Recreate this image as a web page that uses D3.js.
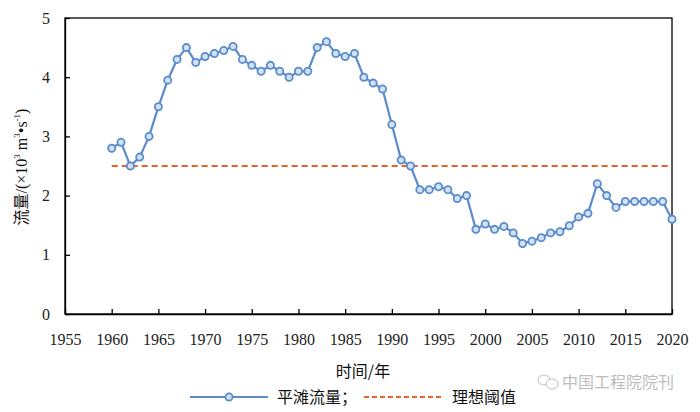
<!DOCTYPE html>
<html>
<head>
<meta charset="utf-8">
<script src="https://cdn.jsdelivr.net/npm/d3@7/dist/d3.min.js"></script>
<style>
body{margin:0;background:#fff;}
svg{display:block;}
</style>
</head>
<body>
<svg id="chart" width="700" height="412" font-family="Liberation Serif"></svg>
<script>
const years = d3.range(1960, 2021);
const flow = [2.8, 2.9, 2.5, 2.65, 3.0, 3.5, 3.95, 4.3, 4.5, 4.25,
              4.35, 4.4, 4.45, 4.52, 4.3, 4.2, 4.1, 4.2, 4.1, 4.0,
              4.1, 4.1, 4.5, 4.6, 4.4, 4.35, 4.4, 4.0, 3.9, 3.8,
              3.2, 2.6, 2.5, 2.1, 2.1, 2.15, 2.1, 1.95, 2.0, 1.43,
              1.52, 1.43, 1.48, 1.37, 1.19, 1.23, 1.29, 1.37, 1.39, 1.49,
              1.64, 1.7, 2.2, 2.0, 1.8, 1.9, 1.9, 1.9, 1.9, 1.9, 1.6];
const threshold = 2.5;
const xTicks = d3.range(1955, 2021, 5);
const yTicks = [0, 1, 2, 3, 4, 5];
const seriesNames = ["平滩流量；", "理想阈值"];

const SERIF = "Liberation Serif";
const CJK = "Noto Sans CJK SC";

const svg = d3.select("#chart");
const L = 65, R = 672, T = 18, B = 314;
const x = d3.scaleLinear().domain([1955, 2020]).range([L, R]);
const y = d3.scaleLinear().domain([0, 5]).range([B, T]);
const blue = "#5a8ccc", orange = "#e8622a";

// frame
svg.append("rect").attr("x", L).attr("y", T).attr("width", R - L).attr("height", B - T)
  .attr("fill", "none").attr("stroke", "#000").attr("stroke-width", 1.3);

// axes
const xAxis = svg.append("g").attr("transform", `translate(0,${B})`)
  .call(d3.axisBottom(x).tickValues(xTicks).tickFormat(d3.format("d")).tickSizeInner(-5).tickSizeOuter(0).tickPadding(20));
const yAxis = svg.append("g").attr("transform", `translate(${L},0)`)
  .call(d3.axisLeft(y).tickValues(yTicks).tickFormat(d3.format("d")).tickSizeInner(-5).tickSizeOuter(0).tickPadding(15));
[xAxis, yAxis].forEach(g => {
  g.attr("font-family", SERIF).attr("font-size", 16);
  g.select(".domain").attr("stroke", "#000").attr("stroke-width", 1.3);
  g.selectAll(".tick line").attr("stroke", "#000").attr("stroke-width", 1.3);
  g.selectAll(".tick text").attr("font-family", SERIF).attr("font-size", 16)
    .style("font-family", SERIF).attr("fill", "#222");
});

// threshold line
svg.append("line").attr("x1", x(1960)).attr("x2", x(2020))
  .attr("y1", y(threshold)).attr("y2", y(threshold))
  .attr("stroke", orange).attr("stroke-width", 2).attr("stroke-dasharray", "6,4");

// series
const data = years.map((yr, i) => ({yr, v: flow[i]}));
svg.append("path").datum(data)
  .attr("d", d3.line().x(d => x(d.yr)).y(d => y(d.v)))
  .attr("fill", "none").attr("stroke", blue).attr("stroke-width", 2.2);
svg.append("g").selectAll("circle").data(data).join("circle")
  .attr("cx", d => x(d.yr)).attr("cy", d => y(d.v)).attr("r", 3.6)
  .attr("fill", "#d3e1f3").attr("stroke", blue).attr("stroke-width", 1.8);

// axis titles
svg.append("text").attr("x", 363).attr("y", 377).attr("text-anchor", "middle")
  .attr("font-size", 16).attr("fill", "#111").attr("font-family", CJK).text("时间/年");
svg.append("text").attr("transform", "translate(27,167) rotate(-90)")
  .attr("text-anchor", "middle").attr("font-size", 16).attr("fill", "#111")
  .attr("font-family", SERIF)
  .call(t => {
    t.append("tspan").attr("font-family", CJK).text("流量");
    t.append("tspan").text("/(×10");
    t.append("tspan").attr("font-size", 9).attr("dy", -7).text("3");
    t.append("tspan").attr("dy", 7).text(" m");
    t.append("tspan").attr("font-size", 9).attr("dy", -7).text("3");
    t.append("tspan").attr("dy", 7).text("•s");
    t.append("tspan").attr("font-size", 9).attr("dy", -7).text("-1");
    t.append("tspan").attr("dy", 7).text(")");
  });

// legend
const ly = 397;
svg.append("line").attr("x1", 190).attr("x2", 268).attr("y1", ly).attr("y2", ly)
  .attr("stroke", blue).attr("stroke-width", 2.2);
svg.append("circle").attr("cx", 229).attr("cy", ly).attr("r", 3.6)
  .attr("fill", "#d3e1f3").attr("stroke", blue).attr("stroke-width", 1.8);
svg.append("text").attr("x", 277).attr("y", ly + 6).attr("font-size", 16).attr("fill", "#111")
  .attr("font-family", CJK).text(seriesNames[0]);
svg.append("line").attr("x1", 364).attr("x2", 441).attr("y1", ly).attr("y2", ly)
  .attr("stroke", orange).attr("stroke-width", 2).attr("stroke-dasharray", "5,3");
svg.append("text").attr("x", 452).attr("y", ly + 6).attr("font-size", 16).attr("fill", "#111")
  .attr("font-family", CJK).text(seriesNames[1]);

// watermark
const wm = svg.append("g").attr("opacity", 0.55);
wm.append("ellipse").attr("cx", 544).attr("cy", 380).attr("rx", 6).attr("ry", 5)
  .attr("fill", "none").attr("stroke", "#888").attr("stroke-width", 1);
wm.append("ellipse").attr("cx", 552).attr("cy", 384).attr("rx", 6).attr("ry", 5)
  .attr("fill", "#fff").attr("stroke", "#888").attr("stroke-width", 1);
wm.append("text").attr("x", 562).attr("y", 388).attr("font-size", 16).attr("fill", "#888")
  .attr("font-family", CJK).text("中国工程院院刊");
</script>
</body>
</html>
